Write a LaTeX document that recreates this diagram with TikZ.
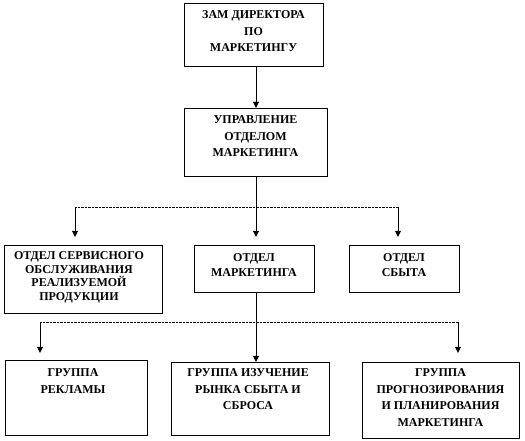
\documentclass[tikz,border=0pt]{standalone}
\usepackage{fontspec}
\setmainfont{Liberation Serif}
\usetikzlibrary{arrows.meta,positioning,calc}
\tikzset{
  unit/.style={draw,thin,inner sep=0pt},
  txt/.style={font=\bfseries\fontsize{12}{16.5}\selectfont,align=center,inner sep=0pt},
  bus/.style={thin,densely dotted},
  feed/.style={thin,-{Triangle[width=6pt,length=6pt]}},
}
\begin{document}
\begin{tikzpicture}[x=1pt,y=-1pt]
 \useasboundingbox (0,0) rectangle (525,441);
 % top
 \node[unit,minimum width=139pt,minimum height=63pt] (dir) at (253.5,34.5){};
 \node[txt,below=8pt of dir.north] (dirt){ЗАМ ДИРЕКТОРА\\ПО\\МАРКЕТИНГУ};
 \node[unit,minimum width=143pt,minimum height=68pt] (upr) at (255.5,142){};
 \node[txt,below=8pt of upr.north] (uprt){УПРАВЛЕНИЕ\\ОТДЕЛОМ\\МАРКЕТИНГА};
 % departments
 \node[unit,minimum width=158pt,minimum height=68pt] (serv) at (83,279){};
 \node[txt,font=\bfseries\fontsize{12}{13.5}\selectfont,below=7pt of serv.north,xshift=-4pt] (servt){ОТДЕЛ СЕРВИСНОГО\\ОБСЛУЖИВАНИЯ\\РЕАЛИЗУЕМОЙ\\ПРОДУКЦИИ};
 \node[unit,minimum width=120pt,minimum height=47pt] (mark) at (254,268.5){};
 \node[txt,font=\bfseries\fontsize{12}{15}\selectfont,below=9pt of mark.north] (markt){ОТДЕЛ\\МАРКЕТИНГА};
 \node[unit,minimum width=110pt,minimum height=47pt] (sbyt) at (404,268.5){};
 \node[txt,font=\bfseries\fontsize{12}{15}\selectfont,below=9pt of sbyt.north] (sbytt){ОТДЕЛ\\СБЫТА};
 % groups
 \node[unit,minimum width=142pt,minimum height=75pt] (rekl) at (76,397.5){};
 \node[txt,below=9pt of rekl.north,xshift=-3pt] (reklt){ГРУППА\\РЕКЛАМЫ};
 \node[unit,minimum width=158pt,minimum height=73pt] (izuch) at (250,398.5){};
 \node[txt,below=7pt of izuch.north,xshift=-2pt] (izucht){ГРУППА ИЗУЧЕНИЕ\\РЫНКА СБЫТА И\\СБРОСА};
 \node[unit,minimum width=157pt,minimum height=76pt] (prog) at (440.5,400){};
 \node[txt,below=7pt of prog.north] (progt){ГРУППА\\ПРОГНОЗИРОВАНИЯ\\И ПЛАНИРОВАНИЯ\\МАРКЕТИНГА};
 % connectors
 \coordinate (b1l) at (75,207);
 \coordinate (b1r) at (398,207);
 \coordinate (b2l) at (40,322);
 \coordinate (b2r) at (458,322);
 \draw[feed] (dir.south -| 256,0) -- (upr.north -| 256,0);
 \draw[feed,shorten >=8pt] (upr.south -| 256,0) -- (mark.north -| 256,0);
 \draw[bus] (b1l) -- (b1r);
 \draw[feed,shorten >=8pt] (b1l) -- (serv.north -| b1l);
 \draw[feed,shorten >=8pt] (b1r) -- (sbyt.north -| b1r);
 \draw[feed] (mark.south -| 256,0) -- (izuch.north -| 256,0);
 \draw[bus] (b2l) -- (b2r);
 \draw[feed,shorten >=7pt] (b2l) -- (rekl.north -| b2l);
 \draw[feed,shorten >=9pt] (b2r) -- (prog.north -| b2r);
\end{tikzpicture}
\end{document}
